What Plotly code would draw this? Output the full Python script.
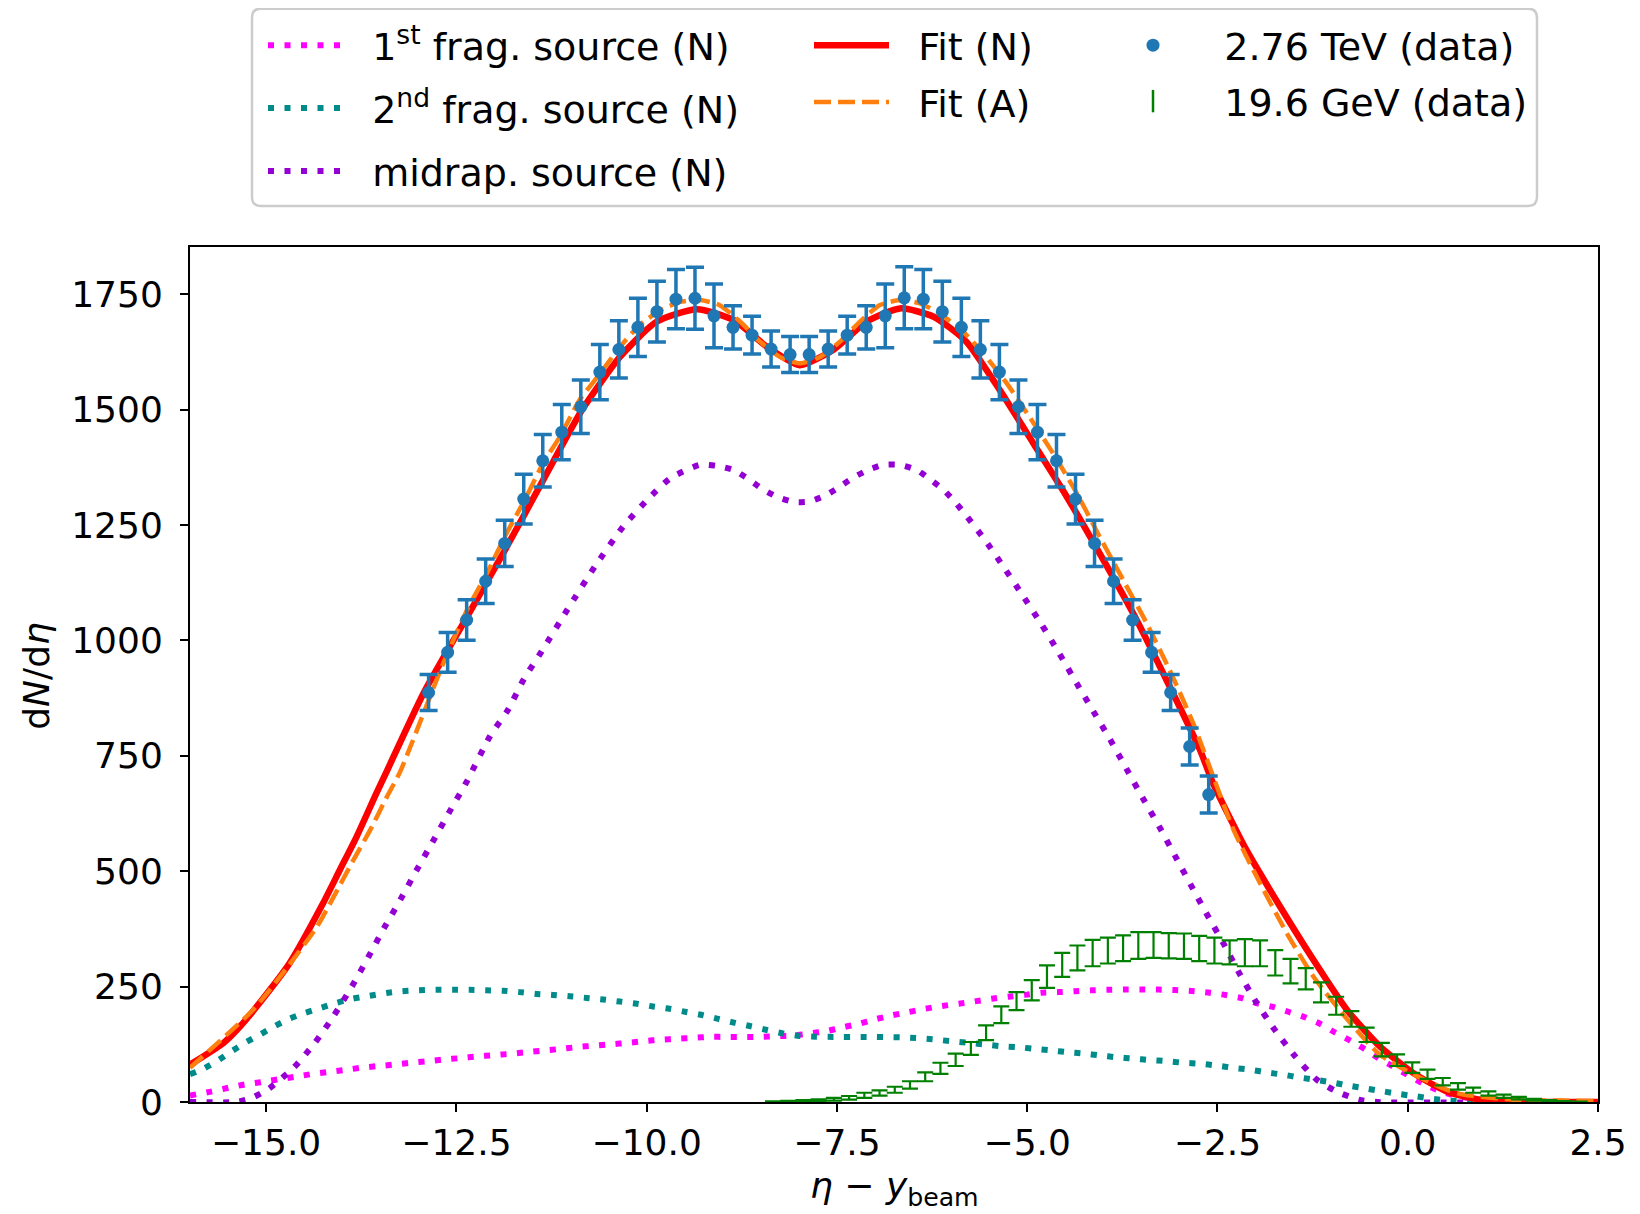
import plotly.graph_objects as go

# page is rendered with the browser's default 8px body margin; work in page pixels
OFF = 8
W, H = 1640 - OFF, 1214 - OFF
ML, MT = 190 - OFF, 247 - OFF
MR, MB = 42, 111.5

# ---------------- data ----------------
# 2.76 TeV (data), x = eta - y_beam
alice_x = [-12.865, -12.615, -12.365, -12.115, -11.865, -11.615, -11.365, -11.115,
           -10.865, -10.615, -10.365, -10.115, -9.865, -9.615, -9.365, -9.115,
           -8.865, -8.615, -8.365, -8.115, -7.865, -7.615, -7.365, -7.115,
           -6.865, -6.615, -6.365, -6.115, -5.865, -5.615, -5.365, -5.115,
           -4.865, -4.615, -4.365, -4.115, -3.865, -3.615, -3.365, -3.115,
           -2.865, -2.615]
alice_y = [887, 974, 1044, 1128, 1210, 1306, 1389, 1451, 1506, 1581, 1630, 1678,
           1712, 1739, 1741, 1703, 1678, 1661, 1631, 1619, 1619, 1631, 1661, 1678,
           1703, 1742, 1739, 1712, 1678, 1630, 1581, 1506, 1451, 1389, 1306, 1210,
           1128, 1044, 974, 887, 770, 666]
alice_err = [39, 43, 44, 48, 50, 54, 57, 60, 58, 60, 62, 63, 66, 64, 67, 69, 47,
             41, 39, 39, 39, 39, 41, 47, 69, 67, 64, 66, 63, 62, 60, 58, 60, 57,
             54, 50, 48, 44, 43, 39, 40, 40]

# 19.6 GeV (data)
phobos_x = [-8.34, -8.14, -7.94, -7.74, -7.54, -7.34, -7.14, -6.94, -6.74, -6.54,
            -6.34, -6.14, -5.94, -5.74, -5.54, -5.34, -5.14, -4.94, -4.74, -4.54,
            -4.34, -4.14, -3.94, -3.74, -3.54, -3.34, -3.14, -2.94, -2.74, -2.54,
            -2.34, -2.14, -1.94, -1.74, -1.54, -1.34, -1.14, -0.94, -0.74, -0.54,
            -0.34, -0.14, 0.06, 0.26, 0.46, 0.66, 0.86, 1.06, 1.26, 1.46, 1.66,
            1.86, 2.06, 2.26]
phobos_y = [0.75, 1.5, 2.5, 4, 6, 9, 14.5, 19.5, 26.5, 37, 54.5, 73, 91.5, 116,
            150, 189, 218.5, 242, 271.5, 297, 312, 322.5, 328, 333, 339, 340,
            338.5, 337.5, 332.5, 328, 324, 323.5, 322, 301.5, 283.5, 267, 237.5,
            208.5, 180, 145.5, 113.5, 90.5, 74.5, 60, 44, 34, 25.5, 18.5, 12.5,
            8.3, 5, 2.8, 1.3, 0.5]
phobos_err = [0.75, 1.0, 1.5, 2, 3, 4, 5.5, 5.5, 6.5, 8, 9.5, 12, 13.5, 14, 16,
              18, 19.5, 22, 24.5, 26, 27, 28.5, 28, 28, 29, 28, 27.5, 27.5, 27.5,
              28, 26, 29.5, 28, 27.5, 26.5, 23, 21.5, 19.5, 17, 15.5, 14.5, 12.5,
              11.5, 10, 8, 7, 5.5, 4.5, 3.5, 2.7, 2, 1.3, 0.8, 0.5]

# Fit (N)
fitN_x = [-16.0, -15.56, -15.34, -14.95, -14.69, -14.25, -14.03, -13.81, -13.55,
          -13.41, -12.93, -12.36, -11.86, -11.36, -10.85, -10.35, -9.87, -9.34,
          -8.86, -8.42, -7.99, -7.55, -7.11, -6.67, -6.23, -5.80, -5.36, -4.92,
          -4.48, -4.05, -3.61, -3.17, -2.73, -2.56, -2.12, -1.68, -1.24, -0.80,
          -0.37, 0.07, 0.51, 0.95, 1.39, 2.0, 2.5]
fitN_y = [81, 128, 164, 243, 301, 431, 503, 575, 669, 718, 886, 1051, 1196, 1347,
          1499, 1614, 1690, 1717, 1694, 1636, 1596, 1629, 1690, 1719, 1701, 1647,
          1542, 1427, 1311, 1189, 1059, 914, 763, 691, 546, 424, 308, 200, 121,
          63, 23, 5, 0.5, 0, 0]

# Fit (A)
fitA_x = [-16.0, -15.17, -14.73, -14.33, -14.12, -13.85, -13.63, -13.41, -13.24,
          -12.67, -12.36, -12.10, -11.84, -11.58, -11.36, -11.14, -10.88, -10.61,
          -10.35, -10.09, -9.82, -9.56, -9.30, -9.04, -8.77, -8.51, -8.25, -7.99,
          -7.72, -7.46, -7.20, -6.94, -6.67, -6.41, -6.15, -5.84, -5.58, -5.27,
          -4.97, -4.66, -4.35, -4.05, -3.74, -3.43, -3.13, -2.82, -2.29, -1.94,
          -1.59, -1.24, -0.80, -0.37, 0.07, 0.51, 0.73, 1.38, 2.0, 2.5]
fitA_y = [74, 200, 290, 380, 442, 525, 590, 662, 715, 951, 1066, 1145, 1232, 1311,
          1384, 1441, 1521, 1578, 1636, 1683, 1715, 1733, 1737, 1726, 1690, 1647,
          1614, 1600, 1614, 1647, 1690, 1726, 1737, 1730, 1708, 1668, 1622, 1557,
          1484, 1405, 1319, 1225, 1131, 1037, 936, 821, 590, 474, 366, 272, 180,
          103, 60, 27, 16, 5, 3, 2]

# midrap. source (N)
mid_x = [-16.0, -15.4, -15.2, -14.98, -14.64, -14.36, -14.11, -13.87, -13.66,
         -13.45, -13.23, -13.02, -12.80, -12.59, -12.37, -12.06, -11.82, -11.62,
         -11.38, -11.04, -10.68, -10.31, -10.00, -9.69, -9.30, -9.08, -8.86, -8.66,
         -8.49, -8.29, -8.07, -7.88, -7.66, -7.48, -7.29, -7.09, -6.89, -6.67,
         -6.45, -6.28, -6.10, -5.95, -5.81, -5.54, -5.29, -5.05, -4.81, -4.58,
         -4.35, -4.13, -3.91, -3.70, -3.48, -3.26, -3.05, -2.84, -2.63, -2.42,
         -2.21, -1.99, -1.75, -1.48, -1.20, -0.94, -0.64, -0.40, 2.5]
mid_y = [0, 0, 8, 27, 74, 128, 187, 251, 313, 377, 440, 503, 567, 629, 692, 792,
         850, 914, 976, 1067, 1160, 1246, 1303, 1351, 1380, 1378, 1369, 1349, 1329,
         1311, 1300, 1300, 1313, 1331, 1352, 1369, 1380, 1380, 1369, 1349, 1326,
         1300, 1272, 1214, 1154, 1095, 1034, 972, 907, 846, 785, 723, 658, 595,
         531, 467, 404, 343, 278, 216, 157, 99, 49, 23, 5, 0, 0]

# 2nd frag. source (N)
frag2_x = [-16.0, -15.845, -15.65, -15.47, -15.28, -15.08, -14.9, -14.70, -14.49,
           -14.28, -14.07, -13.86, -13.64, -13.42, -13.21, -12.99, -12.77, -12.55,
           -12.33, -12.11, -11.89, -11.67, -11.45, -11.23, -11.01, -10.79, -10.57,
           -10.35, -10.13, -9.92, -9.70, -9.48, -9.26, -9.06, -8.84, -8.63, -8.42,
           -8.21, -7.99, -7.77, -7.55, -7.11, -6.67, -6.46, -6.24, -6.02, -5.80,
           -5.58, -5.36, -5.14, -4.92, -4.70, -4.48, -4.26, -4.05, -3.83, -3.61,
           -3.39, -3.17, -2.95, -2.73, -2.51, -2.29, -2.07, -1.85, -1.63, -1.42,
           -1.20, -0.98, -0.76, -0.54, -0.32, -0.10, 0.12, 0.34, 0.56, 0.78, 1.2, 2.5]
frag2_y = [60, 70, 88, 108, 128, 146, 163, 180, 193, 204, 215, 224, 230, 236, 240,
           242, 243, 243, 243, 242, 241, 238, 234, 232, 229, 225.5, 222, 217.5, 213,
           207, 202, 195, 188, 180, 171.5, 164, 156, 148.5, 143, 141.6, 141, 141,
           140, 138.5, 135.7, 132, 128.5, 125, 121, 119, 115.5, 112, 108, 105, 101,
           97, 94, 91, 88.5, 85, 83, 79, 74, 70, 64, 59, 53, 48, 42, 35, 29, 23, 17,
           12, 6.7, 3, 0.5, 0, 0]

# 1st frag. source (N)
frag1_x = [-16.0, -15.71, -15.49, -15.28, -15.06, -14.84, -14.62, -14.42, -14.20,
           -13.98, -13.76, -13.54, -13.32, -13.10, -12.89, -12.67, -12.45, -12.23,
           -12.01, -11.79, -11.57, -11.35, -11.13, -10.91, -10.69, -10.47, -10.25,
           -10.03, -9.81, -9.60, -9.38, -9.17, -8.95, -8.73, -8.51, -8.29, -8.07,
           -7.86, -7.64, -7.42, -7.21, -7.00, -6.78, -6.56, -6.34, -6.12, -5.90,
           -5.69, -5.47, -5.25, -5.03, -4.81, -4.59, -4.37, -4.15, -3.94, -3.72,
           -3.50, -3.28, -3.06, -2.84, -2.62, -2.40, -2.18, -1.99, -1.77, -1.56,
           -1.34, -1.14, -0.95, -0.75, -0.56, -0.38, -0.19, 0.0, 0.2, 0.39, 0.59,
           0.81, 1.02, 1.24, 1.6, 2.5]
frag1_y = [14, 23, 31, 38, 43, 49, 54.5, 60, 64.5, 69, 74, 77.6, 81, 85, 88, 92, 95,
           98.6, 101.5, 104.4, 108, 111.6, 115, 119, 122, 125, 128, 132, 135, 137,
           139, 141, 141, 141, 141, 142.6, 144, 148.5, 153.5, 162, 169.5, 179,
           187.6, 194.8, 202, 208, 213, 218, 223.6, 228, 232, 236.7, 238, 240, 242,
           243, 243.5, 243.5, 243.5, 242.4, 240.5, 237, 232, 225, 214, 206, 195,
           183, 168.5, 150, 132.5, 114, 94.5, 76.5, 58.4, 40.4, 26, 15, 8, 3, 0.5,
           0, 0]

x_ticks = [-15.0, -12.5, -10.0, -7.5, -5.0, -2.5, 0.0, 2.5]
y_ticks = [0, 250, 500, 750, 1000, 1250, 1500, 1750]

# ---------------- figure ----------------
FONT = "DejaVu Sans"
TFS = 36      # tick labels / axis titles
LFS = 38      # legend
DOT = "6px,10.5px"
NB = "\u00a0"

fig = go.Figure()

def curve(x, y, name, color, width, dash, legend):
    fig.add_trace(go.Scatter(
        x=x, y=y, mode="lines", name=name,
        line=dict(color=color, width=width, dash=dash, shape="spline", smoothing=0.6),
        legend=legend, legendgroup=name, hoverinfo="skip"))

curve(frag1_x, frag1_y, NB * 2 + "1<sup>st</sup> frag. source (N)", "#ff00ff", 6, DOT, "legend")
curve(frag2_x, frag2_y, NB * 2 + "2<sup>nd</sup> frag. source (N)", "#008b8b", 6, DOT, "legend")
curve(mid_x, mid_y, NB * 2 + "midrap. source (N)", "#9400d3", 6, DOT, "legend")
curve(fitN_x, fitN_y, NB * 2 + "Fit (N)", "#ff0000", 6.5, "solid", "legend2")
curve(fitA_x, fitA_y, NB * 2 + "Fit (A)", "#ff7f0e", 4.5, "17px,7px", "legend2")

fig.add_trace(go.Scatter(
    x=phobos_x, y=phobos_y, mode="markers", name="19.6 GeV (data)",
    marker=dict(color="rgba(0,128,0,0)", size=1),
    error_y=dict(type="data", array=phobos_err, visible=True, color="#008000",
                 thickness=2.2, width=8),
    showlegend=False, legend="legend3", hoverinfo="skip"))

fig.add_trace(go.Scatter(
    x=alice_x, y=alice_y, mode="markers", name=NB * 3 + "2.76 TeV (data)",
    marker=dict(color="#1f77b4", size=13),
    error_y=dict(type="data", array=alice_err, visible=True, color="#1f77b4",
                 thickness=3.5, width=9),
    legend="legend3", legendgroup="a"))

# legend entry for the 19.6 GeV data (bars only, no markers)
fig.add_trace(go.Scatter(
    x=[None], y=[None], mode="markers", name=NB * 3 + "19.6 GeV (data)",
    marker=dict(symbol="line-ns-open", size=36, color="#008000",
                line=dict(color="#008000", width=2.5)),
    legend="legend3", legendgroup="b"))

PW, PH = W - ML - MR, H - MT - MB

def pgx(px):   # page pixel -> paper x
    return (px - OFF - ML) / PW

def pgy(py):   # page pixel -> paper y
    return (H - MB - (py - OFF)) / PH

# legend frame (rounded corners)
x0, x1, y0, y1, r = 252, 1537, 8.5, 206, 9
path = (f"M {pgx(x0 + r)},{pgy(y0)} L {pgx(x1 - r)},{pgy(y0)} "
        f"Q {pgx(x1)},{pgy(y0)} {pgx(x1)},{pgy(y0 + r)} "
        f"L {pgx(x1)},{pgy(y1 - r)} "
        f"Q {pgx(x1)},{pgy(y1)} {pgx(x1 - r)},{pgy(y1)} "
        f"L {pgx(x0 + r)},{pgy(y1)} "
        f"Q {pgx(x0)},{pgy(y1)} {pgx(x0)},{pgy(y1 - r)} "
        f"L {pgx(x0)},{pgy(y0 + r)} "
        f"Q {pgx(x0)},{pgy(y0)} {pgx(x0 + r)},{pgy(y0)} Z")
fig.add_shape(type="path", path=path, xref="paper", yref="paper",
              line=dict(color="#cccccc", width=2.5), fillcolor="rgba(255,255,255,0.8)",
              layer="below")

def cx(px):
    return (px - OFF) / W

def cy(py):
    return 1 - (py - OFF) / H

leg_common = dict(font=dict(family=FONT, size=LFS, color="black"),
                  bgcolor="rgba(0,0,0,0)", borderwidth=0,
                  xref="container", yref="container", xanchor="left", yanchor="top",
                  itemclick=False, itemdoubleclick=False)

# axis titles
fig.add_annotation(text="<i>η</i> − <i>y</i><sub>beam</sub>", xref="paper", yref="paper",
                   x=pgx(894), y=pgy(1189), xanchor="center", yanchor="middle",
                   showarrow=False, font=dict(family=FONT, size=TFS, color="black"))
fig.add_annotation(text="d<i>N</i>/d<i>η</i>", xref="paper", yref="paper",
                   x=pgx(37), y=pgy(676), xanchor="center", yanchor="middle",
                   textangle=-90, showarrow=False,
                   font=dict(family=FONT, size=TFS, color="black"))

fig.update_layout(
    width=W, height=H,
    margin=dict(l=ML, r=MR, t=MT, b=MB, autoexpand=False),
    paper_bgcolor="white", plot_bgcolor="white",
    font=dict(family=FONT, size=TFS, color="black"),
    showlegend=True,
    legend=dict(**leg_common, x=cx(263), y=cy(14), itemwidth=75, tracegroupgap=10.5),
    legend2=dict(**leg_common, x=cx(809), y=cy(14), itemwidth=75, tracegroupgap=4.5),
    legend3=dict(**leg_common, x=cx(1118), y=cy(14), itemwidth=60, tracegroupgap=3.5),
    xaxis=dict(range=[-16, 2.5], tickvals=x_ticks, tickformat=".1f",
               showgrid=False, zeroline=False, showline=True, linecolor="black",
               linewidth=2, mirror=True, ticks="outside", ticklen=8, tickwidth=2,
               tickcolor="black", tickfont=dict(family=FONT, size=TFS)),
    yaxis=dict(range=[0, 1852], tickvals=y_ticks,
               showgrid=False, zeroline=False, showline=True, linecolor="black",
               linewidth=2, mirror=True, ticks="outside", ticklen=8, tickwidth=2,
               tickcolor="black", tickfont=dict(family=FONT, size=TFS),
               ticklabelstandoff=10),
)

fig.write_html("out.html")
